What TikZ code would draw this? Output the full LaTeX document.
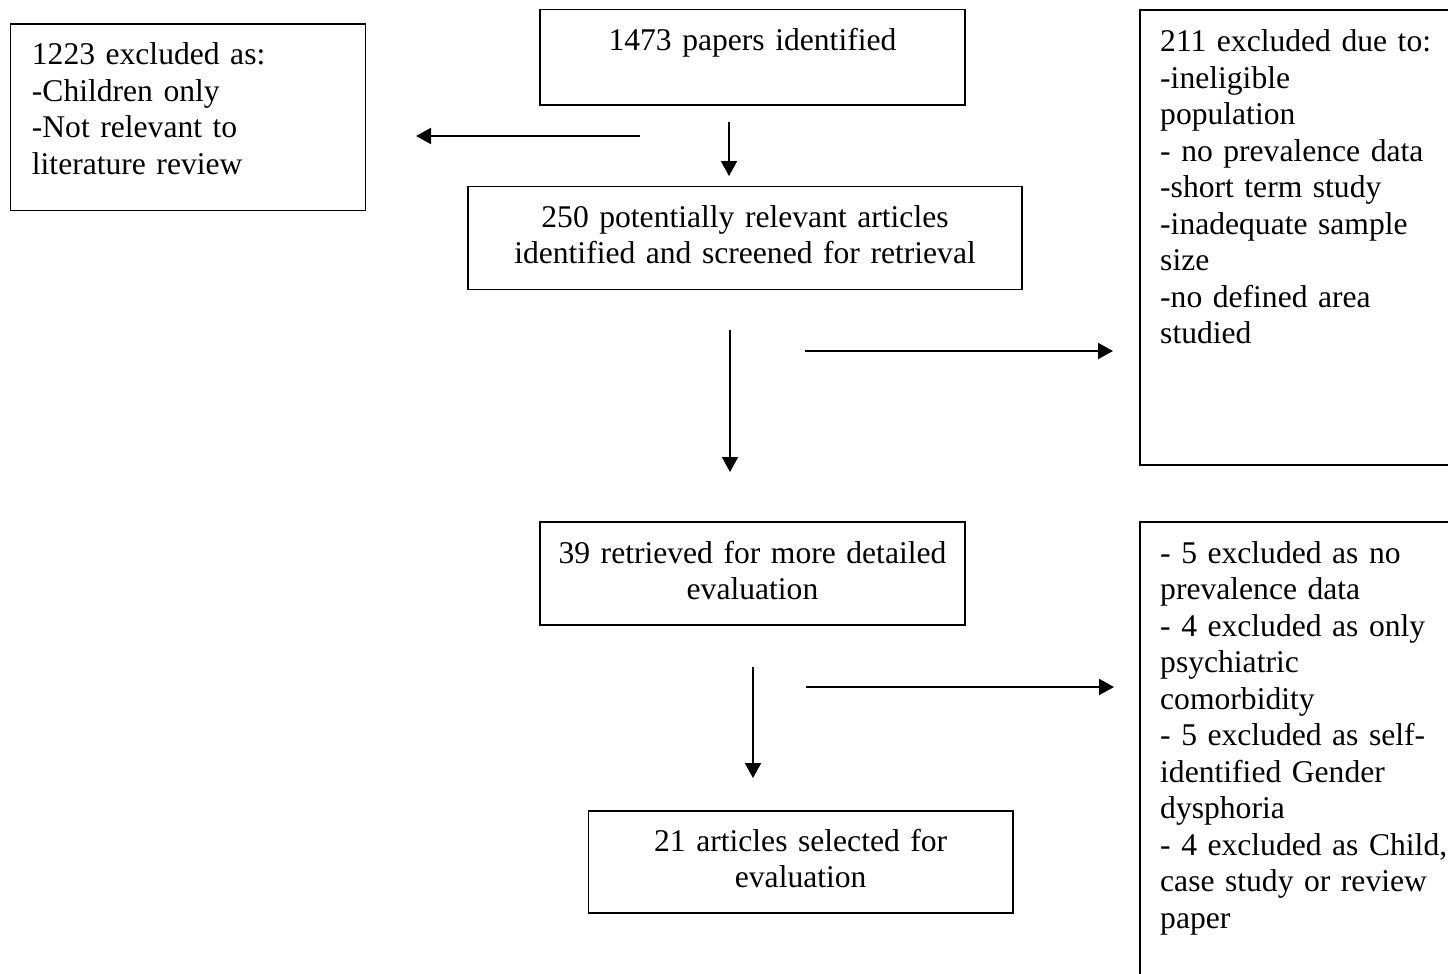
\documentclass[tikz,border=0pt]{standalone}
\usepackage{fontspec}
\setmainfont{Liberation Serif}
\usetikzlibrary{arrows.meta}
\tikzset{
  boxst/.style={draw=black, line width=1.3pt, rectangle, inner sep=0pt, outer sep=0pt, anchor=north west},
  txtl/.style={anchor=base west, inner sep=0pt, text width=380pt, align=left, font={\fontsize{31.6}{36.5}\selectfont}},
  txtc/.style={anchor=base, inner sep=0pt, text width=560pt, align=center, font={\fontsize{31.6}{36.5}\selectfont}},
  arr/.style={line width=2pt, -{Triangle[length=15pt,width=16pt]}}
}
\begin{document}
\begin{tikzpicture}[x=1pt,y=-1pt]
\clip (0,0) rectangle (1448,974);
\fill[white] (0,0) rectangle (1448,974);
% boxes
\node[boxst, minimum width=355pt, minimum height=186.7pt] (bA) at (10.7,24) {};
\node[boxst, minimum width=425pt, minimum height=95.7pt] (bB) at (540,9.3) {};
\node[boxst, minimum width=554pt, minimum height=102.6pt] (bC) at (468,186.7) {};
\node[boxst, minimum width=330pt, minimum height=455pt] (bD) at (1140,10) {};
\node[boxst, minimum width=425pt, minimum height=103pt] (bE) at (540,522) {};
\node[boxst, minimum width=424.5pt, minimum height=102pt] (bF) at (588.5,811) {};
\node[boxst, minimum width=330pt, minimum height=480pt] (bG) at (1140,522) {};
% texts
\node[txtl] (tA) at (31.7,64.5) {1223 excluded as:\\-Children only\\-Not relevant to\\literature review};
\node[txtc] (tB) at (752.5,51) {1473 papers identified};
\node[txtc] (tC) at (745,227) {250 potentially relevant articles\\identified and screened for retrieval};
\node[txtl] (tD) at (1160,52) {211 excluded due to:\\-ineligible\\population\\- no prevalence data\\-short term study\\-inadequate sample\\size\\-no defined area\\studied};
\node[txtc] (tE) at (752.5,563) {39 retrieved for more detailed\\evaluation};
\node[txtc] (tF) at (800.7,851) {21 articles selected for\\evaluation};
\node[txtl] (tG) at (1160,563) {- 5 excluded as no\\prevalence data\\- 4 excluded as only\\psychiatric\\comorbidity\\- 5 excluded as self-\\identified Gender\\dysphoria\\- 4 excluded as Child,\\case study or review\\paper};
% arrow end points
\coordinate (a1s) at (640,136);  \coordinate (a1e) at (416,136);
\coordinate (a2s) at (729,122);  \coordinate (a2e) at (729,176);
\coordinate (a3s) at (730,330);  \coordinate (a3e) at (730,472);
\coordinate (a4s) at (805,351);  \coordinate (a4e) at (1113,351);
\coordinate (a5s) at (753,667);  \coordinate (a5e) at (753,778);
\coordinate (a6s) at (806,687);  \coordinate (a6e) at (1114,687);
\draw[arr] (a1s) -- (a1e);
\draw[arr] (a2s) -- (a2e);
\draw[arr] (a3s) -- (a3e);
\draw[arr] (a4s) -- (a4e);
\draw[arr] (a5s) -- (a5e);
\draw[arr] (a6s) -- (a6e);
\end{tikzpicture}
\end{document}
